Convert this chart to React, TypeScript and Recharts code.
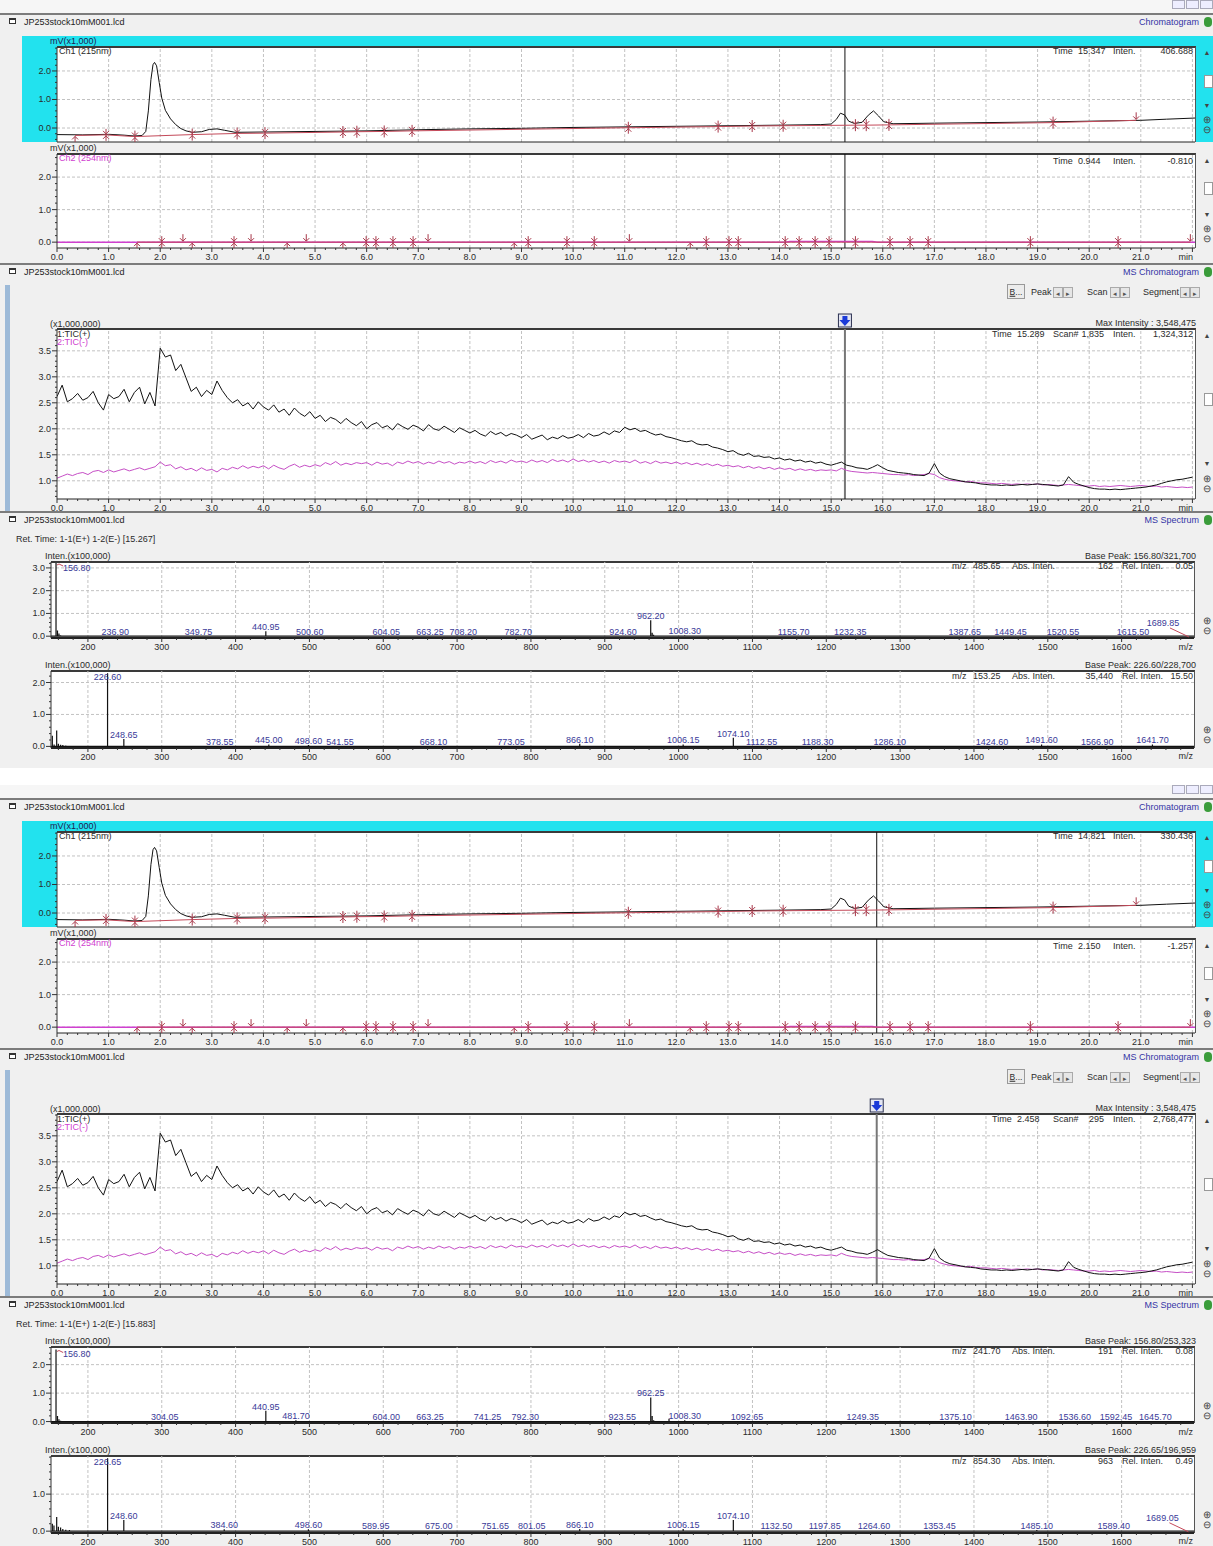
import React from 'react';
import { ComposedChart, Line, Scatter, XAxis, YAxis, ReferenceLine } from 'recharts';

const W = 1213;
const OFF = 785;
const FONT = '"Liberation Sans", Arial, Helvetica, sans-serif';
const TXT = '#2b2b2b';
const LBL = '#3a3a98';
const RED = '#c44a5a';
const MARK = '#a8384a';
const MAG = '#d040d0';
const GRID = '#c2c2c2';

// ---------- LC chromatogram Ch1 (215nm), mV x1000 ----------
const ch1Trace: [number, number][] = [
  [0, -0.23], [0.5, -0.24], [1.0, -0.22], [1.3, -0.25], [1.5, -0.28], [1.65, -0.26], [1.72, -0.12],
  [1.77, 0.6], [1.82, 1.7], [1.86, 2.22], [1.89, 2.3], [1.93, 2.18], [1.98, 1.6], [2.03, 1.05],
  [2.1, 0.62], [2.2, 0.32], [2.3, 0.12], [2.4, -0.02], [2.5, -0.1], [2.62, -0.15], [2.8, -0.13],
  [2.95, -0.05], [3.1, -0.03], [3.25, -0.08], [3.45, -0.15], [4.0, -0.14], [5.0, -0.12], [6.0, -0.1],
  [7.0, -0.06], [8.0, -0.03], [9.0, -0.01], [10.0, 0.02], [11.0, 0.04], [12.0, 0.06], [13.0, 0.08],
  [14.0, 0.1], [14.8, 0.12], [15.0, 0.14], [15.1, 0.3], [15.18, 0.52], [15.26, 0.46], [15.34, 0.24],
  [15.45, 0.16], [15.6, 0.2], [15.72, 0.45], [15.82, 0.6], [15.92, 0.42], [16.02, 0.22], [16.2, 0.15],
  [17.0, 0.17], [18.0, 0.19], [19.0, 0.21], [20.0, 0.24], [21.0, 0.27], [21.5, 0.31], [22.05, 0.35],
];
const ch1Marks: [number, number, string][] = [
  [0.35, -0.26, 'u'], [0.95, -0.24, 'a'], [1.51, -0.3, 'a'], [2.62, -0.23, 'a'], [3.49, -0.19, 'a'],
  [4.03, -0.18, 'a'], [5.54, -0.14, 'a'], [5.81, -0.13, 'a'], [6.34, -0.12, 'a'], [6.88, -0.1, 'a'],
  [11.07, 0.01, 'a'], [12.81, 0.05, 'a'], [13.47, 0.07, 'a'], [14.07, 0.08, 'a'], [15.47, 0.1, 'a'],
  [15.68, 0.1, 'a'], [16.12, 0.11, 'a'], [19.3, 0.19, 'a'], [20.91, 0.27, 'd'],
];

// ---------- LC chromatogram Ch2 (254nm) ----------
const ch2Trace: [number, number][] = [[0, 0.0], [14.1, 0.0], [14.2, 0.02], [15.8, 0.02], [15.9, 0.0], [22.05, 0.0]];
const ch2Marks: [number, number, string][] = [
  [1.55, 0, 'u'], [2.03, 0, 'a'], [2.44, 0, 'd'], [2.62, 0, 'u'], [3.43, 0, 'a'], [3.76, 0, 'd'],
  [4.46, 0, 'u'], [4.83, 0, 'd'], [5.54, 0, 'u'], [5.99, 0, 'a'], [6.18, 0, 'a'], [6.51, 0, 'a'],
  [6.9, 0, 'a'], [7.19, 0, 'd'], [8.86, 0, 'u'], [9.13, 0, 'a'], [9.88, 0, 'a'], [10.41, 0, 'a'],
  [11.09, 0, 'd'], [12.27, 0, 'u'], [12.58, 0, 'a'], [13.02, 0, 'a'], [13.2, 0, 'a'], [14.11, 0, 'a'],
  [14.38, 0, 'a'], [14.69, 0, 'a'], [14.96, 0, 'a'], [15.47, 0, 'a'], [16.14, 0, 'a'], [16.53, 0, 'a'],
  [16.88, 0, 'a'], [18.86, 0, 'a'], [20.56, 0, 'a'], [21.96, 0, 'd'],
];

// ---------- MS TIC (x1,000,000), sampled every 0.1 min from 0.0 ----------
const TIC_STEP = 0.1;
const ticPos: number[] = [
  2.62, 2.84, 2.52, 2.58, 2.68, 2.55, 2.6, 2.72, 2.5, 2.36,
  2.66, 2.58, 2.62, 2.76, 2.52, 2.7, 2.8, 2.48, 2.7, 2.44,
  3.55, 3.38, 3.42, 3.12, 3.24, 2.98, 2.72, 2.8, 2.62, 2.74,
  2.66, 2.92, 2.74, 2.6, 2.5, 2.56, 2.44, 2.5, 2.38, 2.52,
  2.42, 2.36, 2.46, 2.32, 2.38, 2.26, 2.4, 2.3, 2.24, 2.33,
  2.2, 2.26, 2.14, 2.22, 2.18, 2.1, 2.2, 2.12, 2.06, 2.14,
  2.0, 2.08, 2.12, 2.02, 2.06, 1.98, 2.1, 2.04, 1.99, 2.07,
  2.03, 1.96, 2.08, 2.0, 1.97, 2.05, 1.99, 1.93, 2.02, 1.97,
  1.92, 1.97, 1.9, 1.86, 1.95, 1.89, 1.93, 1.86, 1.91, 1.88,
  1.83, 1.89, 1.8, 1.84, 1.88, 1.79, 1.84, 1.81, 1.87, 1.82,
  1.84, 1.89, 1.83, 1.91, 1.86, 1.88, 1.94, 1.89, 1.96, 1.93,
  2.03, 1.98, 2.01, 1.95, 1.97, 1.92, 1.88, 1.9, 1.85, 1.83,
  1.8, 1.77, 1.75, 1.77, 1.71, 1.69, 1.7, 1.65, 1.63, 1.6,
  1.56, 1.58, 1.52, 1.49, 1.53, 1.47, 1.48, 1.45, 1.46, 1.42,
  1.44, 1.4, 1.42, 1.38, 1.4, 1.36, 1.38, 1.34, 1.36, 1.32,
  1.3, 1.33, 1.36, 1.3, 1.28, 1.25, 1.24, 1.22, 1.26, 1.31,
  1.25, 1.2, 1.18, 1.16, 1.15, 1.14, 1.12, 1.11, 1.1, 1.15,
  1.33, 1.15, 1.08, 1.04, 1.02, 1.0, 0.98, 0.97, 0.96, 0.94,
  0.93, 0.92, 0.92, 0.91, 0.92, 0.91, 0.92, 0.93, 0.92, 0.93,
  0.94, 0.93, 0.92, 0.91, 0.9, 0.92, 1.08, 0.97, 0.93, 0.9,
  0.87, 0.85, 0.84, 0.84, 0.83, 0.84, 0.83, 0.84, 0.85, 0.86,
  0.87, 0.88, 0.9, 0.92, 0.95, 0.98, 1.0, 1.02, 1.03, 1.05,
  1.07,
];
const ticNeg: number[] = [
  1.05, 1.09, 1.13, 1.1, 1.14, 1.16, 1.12, 1.18, 1.2, 1.16,
  1.21, 1.17, 1.2, 1.23, 1.19, 1.22, 1.25, 1.21, 1.24, 1.27,
  1.36, 1.29, 1.31, 1.23, 1.27, 1.21, 1.24, 1.19, 1.25, 1.2,
  1.22, 1.17, 1.24, 1.21, 1.26, 1.23, 1.29, 1.24, 1.28, 1.25,
  1.29, 1.23, 1.3, 1.25, 1.22, 1.28, 1.32, 1.26, 1.3, 1.27,
  1.31, 1.28, 1.35, 1.31, 1.37, 1.3, 1.34, 1.31, 1.35, 1.33,
  1.35, 1.3, 1.36, 1.32, 1.34, 1.29, 1.36, 1.33, 1.38, 1.34,
  1.37, 1.32, 1.36, 1.33, 1.38, 1.34, 1.37, 1.32, 1.36, 1.34,
  1.38, 1.34, 1.37, 1.33, 1.39, 1.35, 1.38, 1.34, 1.4, 1.36,
  1.38, 1.35, 1.4, 1.36, 1.39, 1.35, 1.41, 1.37, 1.4, 1.36,
  1.42, 1.37, 1.4, 1.36, 1.39, 1.35, 1.38, 1.34, 1.39, 1.36,
  1.38, 1.35, 1.4, 1.34, 1.37, 1.33, 1.38, 1.34, 1.36, 1.33,
  1.36, 1.32, 1.35, 1.31, 1.34, 1.3, 1.33, 1.29, 1.32, 1.28,
  1.3, 1.27, 1.29, 1.25, 1.28, 1.24, 1.27, 1.23, 1.26, 1.22,
  1.25, 1.22, 1.24, 1.2, 1.23, 1.2, 1.22, 1.19, 1.21, 1.2,
  1.21, 1.19, 1.24, 1.2, 1.18, 1.17, 1.16, 1.15, 1.16, 1.15,
  1.14, 1.13, 1.12, 1.12, 1.11, 1.12, 1.1, 1.11, 1.12, 1.14,
  1.12, 1.06, 1.03, 1.01, 1.0, 0.99, 0.98, 0.99, 0.97, 0.96,
  0.96, 0.95, 0.94, 0.95, 0.94, 0.93, 0.94, 0.93, 0.94, 0.93,
  0.94, 0.92, 0.93, 0.92, 0.91, 0.92, 0.93, 0.92, 0.91, 0.9,
  0.9, 0.91, 0.89, 0.9, 0.89, 0.9, 0.91, 0.9, 0.89, 0.9,
  0.91, 0.9, 0.89, 0.9, 0.88, 0.89, 0.88, 0.87, 0.88, 0.87,
  0.88,
];

// ---------- MS spectra (x100,000): [m/z, intensity, label?, labelStyle?] ----------
type Peak = [number, number, string?, string?];
const specPosA: Peak[] = [
  [156.8, 3.217, '156.80', 'top'], [158.8, 0.25], [160.8, 0.12], [163, 0.04],
  [236.9, 0.02, '236.90'], [349.75, 0.02, '349.75'], [440.95, 0.22, '440.95'], [500.6, 0.02, '500.60'],
  [604.05, 0.02, '604.05'], [663.25, 0.02, '663.25'], [708.2, 0.02, '708.20'], [782.7, 0.02, '782.70'],
  [924.6, 0.02, '924.60'], [962.2, 0.7, '962.20'], [964.2, 0.15], [966.1, 0.06], [1008.3, 0.04, '1008.30'],
  [1155.7, 0.02, '1155.70'], [1232.35, 0.02, '1232.35'], [1387.65, 0.02, '1387.65'], [1449.45, 0.02, '1449.45'],
  [1520.55, 0.02, '1520.55'], [1615.5, 0.02, '1615.50'], [1689.85, 0.01, '1689.85', 'lead'],
];
const specNegA: Peak[] = [
  [151.8, 0.33], [154.2, 0.06], [157.7, 0.5], [160, 0.08], [163, 0.05], [166, 0.04], [170, 0.03], [175, 0.02], [180, 0.02],
  [226.6, 2.287, '226.60', 'in'], [248.65, 0.23, '248.65'], [378.55, 0.02, '378.55'], [445.0, 0.06, '445.00'],
  [498.6, 0.04, '498.60'], [541.55, 0.02, '541.55'], [668.1, 0.02, '668.10'], [773.05, 0.02, '773.05'],
  [866.1, 0.08, '866.10'], [1006.15, 0.06, '1006.15'], [1074.1, 0.27, '1074.10'], [1112.55, 0.02, '1112.55'],
  [1188.3, 0.02, '1188.30'], [1286.1, 0.02, '1286.10'], [1424.6, 0.02, '1424.60'], [1491.6, 0.06, '1491.60'],
  [1566.9, 0.02, '1566.90'], [1641.7, 0.06, '1641.70'],
];
const specPosB: Peak[] = [
  [156.8, 2.533, '156.80', 'top'], [158.8, 0.2], [160.8, 0.08], [163, 0.03],
  [304.05, 0.02, '304.05'], [440.95, 0.38, '440.95'], [481.7, 0.05, '481.70'], [604.0, 0.02, '604.00'],
  [663.25, 0.02, '663.25'], [741.25, 0.02, '741.25'], [792.3, 0.02, '792.30'], [923.55, 0.02, '923.55'],
  [962.25, 0.85, '962.25'], [964.2, 0.2], [966.2, 0.05], [987, 0.1], [1008.3, 0.05, '1008.30'],
  [1092.65, 0.02, '1092.65'], [1249.35, 0.02, '1249.35'], [1375.1, 0.02, '1375.10'], [1463.9, 0.02, '1463.90'],
  [1536.6, 0.02, '1536.60'], [1592.45, 0.02, '1592.45'], [1645.7, 0.02, '1645.70'],
];
const specNegB: Peak[] = [
  [151.8, 0.2], [154, 0.15], [157.7, 0.38], [160, 0.12], [163, 0.1], [166, 0.06], [170, 0.04], [175, 0.03],
  [226.65, 1.97, '226.65', 'in'], [248.6, 0.3, '248.60'], [384.6, 0.05, '384.60'], [498.6, 0.05, '498.60'],
  [589.95, 0.02, '589.95'], [675.0, 0.02, '675.00'], [751.65, 0.02, '751.65'], [801.05, 0.02, '801.05'],
  [866.1, 0.06, '866.10'], [1006.15, 0.06, '1006.15'], [1074.1, 0.3, '1074.10'], [1132.5, 0.02, '1132.50'],
  [1197.85, 0.02, '1197.85'], [1264.6, 0.02, '1264.60'], [1353.45, 0.02, '1353.45'], [1485.1, 0.03, '1485.10'],
  [1589.4, 0.02, '1589.40'], [1689.05, 0.01, '1689.05', 'lead'],
];

// ---------- axes ----------
const CH_X: [number, number] = [0, 22.05];
const SP_X: [number, number] = [150, 1698];
const range = (a: number, b: number, s: number) => {
  const out: number[] = [];
  for (let i = 0; a + i * s <= b + 1e-9; i++) out.push(Math.round((a + i * s) * 1000) / 1000);
  return out;
};
const chXTicks = range(0, 22, 0.2);
const spXTicks = range(160, 1680, 20);

// ---------- derived series ----------
const toXY = (arr: [number, number][]) => arr.map(([x, y]) => ({ x, y }));
const toMarks = (arr: [number, number, string][]) => arr.map(([x, y, k]) => ({ x, y, k }));
const ch1Data = toXY(ch1Trace);
const ch1MarkData = toMarks(ch1Marks);
const ch2Data = toXY(ch2Trace);
const ch2MarkData = toMarks(ch2Marks);
const ticPData = ticPos.map((y, i) => ({ x: Math.round(i * TIC_STEP * 10) / 10, y }));
const ticNData = ticNeg.map((y, i) => ({ x: Math.round(i * TIC_STEP * 10) / 10, y }));
const stickData = (pk: Peak[]) => {
  const pts: { x: number; y: number }[] = [{ x: SP_X[0], y: 0 }];
  [...pk].sort((a, b) => a[0] - b[0]).forEach(([m, h]) => { pts.push({ x: m, y: 0 }, { x: m, y: h }, { x: m, y: 0 }); });
  pts.push({ x: SP_X[1], y: 0 });
  return pts;
};
const labelData = (pk: Peak[]) => pk.filter((p) => p[2]).map(([m, h, label, k]) => ({ x: m, y: h, label, k: k || '' }));

// ---------- tick renderers ----------
const near = (a: number, b: number) => Math.abs(a - b) < 1e-6;
const mkXTick = (isMajor: (v: number) => boolean, show: (v: number) => boolean, fmt: (v: number) => string, dy: number) => (p: any) => {
  const { x, y, payload } = p;
  const v = payload.value;
  const major = isMajor(v);
  return (
    <g>
      <line x1={x} x2={x} y1={y} y2={y + (major ? 4 : 2)} stroke="#333" />
      {major && show(v) ? (
        <text x={x} y={y + dy} textAnchor="middle" fontSize={9} fontFamily={FONT} fill={TXT}>{fmt(v)}</text>
      ) : null}
    </g>
  );
};
const mkYTick = (majors: number[]) => (p: any) => {
  const { x, y, payload } = p;
  const v = payload.value;
  const major = majors.some((m) => near(m, v));
  return (
    <g>
      <line x1={x - (major ? 5 : 2)} x2={x} y1={y} y2={y} stroke="#333" />
      {major ? (
        <text x={x - 6} y={y + 3} textAnchor="end" fontSize={9} fontFamily={FONT} fill={TXT}>{v.toFixed(1)}</text>
      ) : null}
    </g>
  );
};
const chXTick = mkXTick((v) => near(v, Math.round(v)), (v) => v < 21.5, (v) => v.toFixed(1), 12);
const spXTick = mkXTick((v) => near(v % 100, 0), () => true, (v) => String(v), 12);
const noTick = (p: any) => <g />;

// ---------- marker shapes ----------
const PeakMark = (p: any) => {
  const { cx, cy, payload } = p;
  const k = payload.k;
  if (k === 'u')
    return (
      <g stroke={MARK} fill="none">
        <line x1={cx} y1={cy + 1} x2={cx} y2={cy + 8} />
        <polyline points={`${cx - 3},${cy + 4} ${cx},${cy + 1} ${cx + 3},${cy + 4}`} />
      </g>
    );
  if (k === 'd')
    return (
      <g stroke={MARK} fill="none">
        <line x1={cx} y1={cy - 8} x2={cx} y2={cy - 1} />
        <polyline points={`${cx - 3},${cy - 4} ${cx},${cy - 1} ${cx + 3},${cy - 4}`} />
      </g>
    );
  return (
    <g stroke={MARK} fill="none">
      <line x1={cx} y1={cy - 6} x2={cx} y2={cy + 6} />
      <polyline points={`${cx - 3},${cy - 4} ${cx},${cy - 1} ${cx + 3},${cy - 4}`} />
      <polyline points={`${cx - 3},${cy + 4} ${cx},${cy + 1} ${cx + 3},${cy + 4}`} />
    </g>
  );
};
const PeakLabel = (p: any) => {
  const { cx, cy, payload } = p;
  const st = { fontSize: 9, fontFamily: FONT, fill: LBL } as any;
  if (payload.k === 'top')
    return (
      <g>
        <polyline points={`${cx + 1},${cy + 2} ${cx + 3},${cy + 1} ${cx + 7},${cy + 3}`} stroke={RED} fill="none" />
        <text x={cx + 7} y={cy + 8} {...st}>{payload.label}</text>
      </g>
    );
  if (payload.k === 'in') return <text x={cx} y={cy + 7} textAnchor="middle" {...st}>{payload.label}</text>;
  if (payload.k === 'lead')
    return (
      <g>
        <text x={cx - 25} y={cy - 10} textAnchor="middle" {...st}>{payload.label}</text>
        <line x1={cx - 18} y1={cy - 8} x2={cx + 1} y2={cy + 1} stroke={RED} />
      </g>
    );
  return <text x={cx} y={cy - 1} textAnchor="middle" {...st}>{payload.label}</text>;
};
const CursorFlag = (p: any) => {
  const vb = p.viewBox || {};
  const x = vb.x;
  const y = vb.y;
  return (
    <g>
      <rect x={x - 6.5} y={y - 15} width={13} height={13} fill="#e4e6f2" stroke="#2a3050" />
      <path d={`M${x - 2.5},${y - 13} h5 v4 h3 l-5.5,6 l-5.5,-6 h3 z`} fill="#1a3ad8" />
    </g>
  );
};

// ---------- layout helpers ----------
type Geo = { left: number; right: number; top: number; bottom: number };
const G_CH1: Geo = { left: 57, right: 1195, top: 47, bottom: 142 };
const G_CH2: Geo = { left: 57, right: 1195, top: 154, bottom: 248 };
const G_TIC: Geo = { left: 57, right: 1195, top: 329, bottom: 499 };
const G_SP1: Geo = { left: 51, right: 1194, top: 562, bottom: 638 };
const G_SP2: Geo = { left: 51, right: 1194, top: 671, bottom: 748 };

function T({ x, y, c = TXT, a = 'l', s = 9, children }: any) {
  const tr = a === 'r' ? 'translate(-100%,-50%)' : a === 'c' ? 'translate(-50%,-50%)' : 'translate(0,-50%)';
  return (
    <div style={{ position: 'absolute', left: x, top: y, transform: tr, whiteSpace: 'nowrap', fontFamily: FONT, fontSize: s, color: c, lineHeight: 1 }}>
      {children}
    </div>
  );
}
function Box({ x, y, w, h, bg, border, extra }: any) {
  return <div style={{ position: 'absolute', left: x, top: y, width: w, height: h, background: bg, border, boxSizing: 'border-box', ...(extra || {}) }} />;
}
function Frame({ off, g }: { off: number; g: Geo }) {
  return (
    <div style={{ position: 'absolute', left: g.left, top: off + g.top - 1, width: g.right - g.left + 1, height: g.bottom - g.top + 1, background: '#fff', borderTop: '2px solid #3a3a3a', borderRight: '1px solid #555', boxSizing: 'border-box' }} />
  );
}
function Panel({ off, g, xDomain, yDomain, xTicks, yTicks, xTick, yTick, padT = 4, padB = 18, axisW = 1, children }: any) {
  const h = g.bottom - g.top + padT + padB;
  return (
    <div style={{ position: 'absolute', left: 0, top: off + g.top - padT, width: W, height: h }}>
      <ComposedChart width={W} height={h} margin={{ top: padT, right: W - g.right, bottom: 0, left: 0 }}>
        <XAxis type="number" dataKey="x" domain={xDomain} allowDataOverflow ticks={xTicks} interval={0} tickLine={false} tickSize={0} tickMargin={0} height={padB} tick={xTick} axisLine={{ stroke: '#222', strokeWidth: axisW }} />
        <YAxis type="number" dataKey="y" domain={yDomain} allowDataOverflow ticks={yTicks} interval={0} tickLine={false} tickSize={0} tickMargin={0} width={g.left} tick={yTick} axisLine={{ stroke: '#333' }} />
        {children}
      </ComposedChart>
    </div>
  );
}
const gridV = (vals: number[]) => vals.map((v) => <ReferenceLine key={'v' + v} x={v} stroke={GRID} strokeDasharray="3 2" />);
const gridH = (vals: number[]) => vals.map((v) => <ReferenceLine key={'h' + v} y={v} stroke={GRID} strokeDasharray="3 2" />);

function Info({ off, y, xs, texts }: any) {
  return (
    <>
      {texts.map((t: string, i: number) => (
        <T key={i} x={xs[i][0]} y={off + y} a={xs[i][1]}>{t}</T>
      ))}
    </>
  );
}
const CH_INFO_X = [[1053, 'l'], [1078, 'l'], [1113, 'l'], [1193, 'r']];
const TIC_INFO_X = [[992, 'l'], [1017, 'l'], [1053, 'l'], [1104, 'r'], [1113, 'l'], [1193, 'r']];
const SP_INFO_X = [[952, 'l'], [973, 'l'], [1012, 'l'], [1113, 'r'], [1122, 'l'], [1193, 'r']];

function TitleRow({ off, y, right }: any) {
  return (
    <>
      <Box x={0} y={off + y - 8} w={W} h={2} bg="#7c7c7c" />
      <Box x={9} y={off + y - 3} w={7} h={6} bg="#fff" border="1px solid #333" extra={{ borderTop: '2px solid #333' }} />
      <T x={24} y={off + y + 1} c="#222">JP253stock10mM001.lcd</T>
      <T x={1199} y={off + y + 1} a="r" c="#3434a6">{right}</T>
      <div style={{ position: 'absolute', left: 1204, top: off + y - 4, width: 8, height: 10, borderRadius: 4, background: '#3a9c3a' }} />
    </>
  );
}
function Zoomers({ off, y }: any) {
  return (
    <>
      <T x={1207} y={off + y} a="c" s={10} c="#444">⊕</T>
      <T x={1207} y={off + y + 10} a="c" s={10} c="#444">⊖</T>
    </>
  );
}
function SmallBtn({ x, y }: any) {
  return (
    <>
      <Box x={x} y={y} w={10} h={11} bg="#e6e6e6" border="1px solid #aaa" />
      <Box x={x + 10} y={y} w={10} h={11} bg="#e6e6e6" border="1px solid #aaa" />
      <T x={x + 5} y={y + 5.5} a="c" s={7} c="#555">◂</T>
      <T x={x + 15} y={y + 5.5} a="c" s={7} c="#555">▸</T>
    </>
  );
}

const A = {
  cursor: 15.267,
  ch1Info: ['Time', '15.347', 'Inten.', '406.688'],
  ch2Info: ['Time', '0.944', 'Inten.', '-0.810'],
  ticInfo: ['Time', '15.289', 'Scan#', '1,835', 'Inten.', '1,324,312'],
  ret: 'Ret. Time: 1-1(E+) 1-2(E-) [15.267]',
  pos: specPosA, neg: specNegA,
  posY: [-0.08, 3.26], negY: [-0.05, 2.36],
  posMaj: [0, 1, 2, 3], negMaj: [0, 1, 2],
  posBase: 'Base Peak: 156.80/321,700', negBase: 'Base Peak: 226.60/228,700',
  posInfo: ['m/z', '485.65', 'Abs. Inten.', '162', 'Rel. Inten.', '0.05'],
  negInfo: ['m/z', '153.25', 'Abs. Inten.', '35,440', 'Rel. Inten.', '15.50'],
};
const B = {
  cursor: 15.883,
  ch1Info: ['Time', '14.821', 'Inten.', '330.436'],
  ch2Info: ['Time', '2.150', 'Inten.', '-1.257'],
  ticInfo: ['Time', '2.458', 'Scan#', '295', 'Inten.', '2,768,477'],
  ret: 'Ret. Time: 1-1(E+) 1-2(E-) [15.883]',
  pos: specPosB, neg: specNegB,
  posY: [-0.05, 2.62], negY: [-0.05, 2.03],
  posMaj: [0, 1, 2], negMaj: [0, 1],
  posBase: 'Base Peak: 156.80/253,323', negBase: 'Base Peak: 226.65/196,959',
  posInfo: ['m/z', '241.70', 'Abs. Inten.', '191', 'Rel. Inten.', '0.08'],
  negInfo: ['m/z', '854.30', 'Abs. Inten.', '963', 'Rel. Inten.', '0.49'],
};

function Screen({ off, v }: { off: number; v: any }) {
  const ch1Y: [number, number] = [-0.49, 2.84];
  const ch2Y: [number, number] = [-0.18, 2.71];
  const ticY: [number, number] = [0.65, 3.92];
  const posYT = range(0, Math.floor(v.posY[1] * 5) / 5, 0.2);
  const negYT = range(0, Math.floor(v.negY[1] * 5) / 5, 0.2);
  const chV = range(1, 22, 1);
  const spV = range(200, 1600, 100);
  return (
    <>
      <Box x={0} y={off} w={W} h={13} bg="#f6f6f6" />
      <Box x={1172} y={off} w={13} h={9} bg="#eef" border="1px solid #aab" />
      <Box x={1186} y={off} w={13} h={9} bg="#eef" border="1px solid #aab" />
      <Box x={1200} y={off} w={13} h={9} bg="#eef" border="1px solid #aab" />
      <Box x={0} y={off + 13} w={W} h={755} bg="#f0f0f0" />

      {/* ---------------- LC Chromatogram ---------------- */}
      <TitleRow off={off} y={21} right="Chromatogram" />
      <Box x={22} y={off + 36} w={W - 22} h={106} bg="#22e2ee" />
      <Box x={1204} y={off + 75} w={9} h={13} bg="#fff" border="1px solid #999" />
      <T x={1207} y={off + 52} a="c" s={7} c="#444">▲</T>
      <T x={1207} y={off + 105} a="c" s={7} c="#444">▼</T>
      <Zoomers off={off} y={120} />
      <Box x={1204} y={off + 182} w={9} h={13} bg="#fff" border="1px solid #999" />
      <T x={1207} y={off + 160} a="c" s={7} c="#444">▲</T>
      <T x={1207} y={off + 214} a="c" s={7} c="#444">▼</T>
      <Zoomers off={off} y={229} />

      <Frame off={off} g={G_CH1} />
      <Panel off={off} g={G_CH1} xDomain={CH_X} yDomain={ch1Y} xTicks={chXTicks} yTicks={range(-0.4, 2.8, 0.2)} xTick={noTick} yTick={mkYTick([0, 1, 2])} padB={2}>
        {gridV(chV)}
        {gridH([0, 1, 2])}
        <ReferenceLine x={v.cursor} stroke="#111" />
        <Line data={ch1Data} dataKey="y" type="linear" stroke="#111" strokeWidth={1} dot={false} isAnimationActive={false} />
        <Line data={ch1MarkData} dataKey="y" type="linear" stroke={RED} strokeWidth={1} dot={false} isAnimationActive={false} />
        <Scatter data={ch1MarkData} shape={PeakMark} isAnimationActive={false} />
      </Panel>
      <T x={50} y={off + 41} c="#202050">mV(x1,000)</T>
      <T x={59} y={off + 51}>Ch1 (215nm)</T>
      <Info off={off} y={51} xs={CH_INFO_X} texts={v.ch1Info} />

      <Frame off={off} g={G_CH2} />
      <Panel off={off} g={G_CH2} xDomain={CH_X} yDomain={ch2Y} xTicks={chXTicks} yTicks={range(0, 2.6, 0.2)} xTick={chXTick} yTick={mkYTick([0, 1, 2])}>
        {gridV(chV)}
        {gridH([0, 1, 2])}
        <ReferenceLine x={v.cursor} stroke="#111" />
        <Line data={ch2Data} dataKey="y" type="linear" stroke={MAG} strokeWidth={1.5} dot={false} isAnimationActive={false} />
        <Line data={ch2MarkData} dataKey="y" type="linear" stroke={RED} strokeWidth={1} dot={false} isAnimationActive={false} />
        <Scatter data={ch2MarkData} shape={PeakMark} isAnimationActive={false} />
      </Panel>
      <T x={50} y={off + 148}>mV(x1,000)</T>
      <T x={59} y={off + 158} c={MAG}>Ch2 (254nm)</T>
      <Info off={off} y={161} xs={CH_INFO_X} texts={v.ch2Info} />
      <T x={1193} y={off + 257} a="r">min</T>

      {/* ---------------- MS Chromatogram ---------------- */}
      <TitleRow off={off} y={271} right="MS Chromatogram" />
      <Box x={5} y={off + 285} w={5} h={227} bg="#9dbad8" />
      <Box x={1007} y={off + 284} w={18} h={15} bg="#ececec" border="1px solid #999" />
      <T x={1016} y={off + 292} a="c" s={8.5}><u>B</u>...</T>
      <T x={1031} y={off + 292}>Peak</T>
      <SmallBtn x={1053} y={off + 287} />
      <T x={1087} y={off + 292}>Scan</T>
      <SmallBtn x={1110} y={off + 287} />
      <T x={1143} y={off + 292}>Segment</T>
      <SmallBtn x={1180} y={off + 287} />
      <T x={1207} y={off + 335} a="c" s={7} c="#444">▲</T>
      <Box x={1204} y={off + 393} w={9} h={13} bg="#fff" border="1px solid #999" />
      <T x={1207} y={off + 463} a="c" s={7} c="#444">▼</T>
      <Zoomers off={off} y={479} />

      <Frame off={off} g={G_TIC} />
      <Panel off={off} g={G_TIC} xDomain={CH_X} yDomain={ticY} xTicks={chXTicks} yTicks={range(0.7, 3.9, 0.1)} xTick={chXTick} yTick={mkYTick([1, 1.5, 2, 2.5, 3, 3.5])} padT={20}>
        {gridV(chV)}
        {gridH([1, 1.5, 2, 2.5, 3, 3.5])}
        <ReferenceLine x={v.cursor} stroke="#777" strokeWidth={2} label={CursorFlag} />
        <Line data={ticNData} dataKey="y" type="linear" stroke="#c64fc6" strokeWidth={1} dot={false} isAnimationActive={false} />
        <Line data={ticPData} dataKey="y" type="linear" stroke="#111" strokeWidth={1} dot={false} isAnimationActive={false} />
      </Panel>
      <T x={50} y={off + 324}>(x1,000,000)</T>
      <T x={57} y={off + 334}>1:TIC(+)</T>
      <T x={57} y={off + 342} c={MAG}>2:TIC(-)</T>
      <T x={1196} y={off + 323} a="r">Max Intensity : 3,548,475</T>
      <Info off={off} y={334} xs={TIC_INFO_X} texts={v.ticInfo} />
      <T x={1193} y={off + 508} a="r">min</T>

      {/* ---------------- MS Spectrum ---------------- */}
      <TitleRow off={off} y={519} right="MS Spectrum" />
      <T x={16} y={off + 539}>{v.ret}</T>

      <Frame off={off} g={G_SP1} />
      <Panel off={off} g={G_SP1} xDomain={SP_X} yDomain={v.posY} xTicks={spXTicks} yTicks={posYT} xTick={spXTick} yTick={mkYTick(v.posMaj)} axisW={2}>
        {gridV(spV)}
        {gridH(v.posMaj.filter((m: number) => m > 0))}
        <Line data={stickData(v.pos)} dataKey="y" type="linear" stroke="#111" strokeWidth={1.2} dot={false} isAnimationActive={false} />
        <Scatter data={labelData(v.pos)} shape={PeakLabel} isAnimationActive={false} />
      </Panel>
      <T x={45} y={off + 556}>Inten.(x100,000)</T>
      <T x={1196} y={off + 556} a="r">{v.posBase}</T>
      <Info off={off} y={566} xs={SP_INFO_X} texts={v.posInfo} />
      <T x={1193} y={off + 647} a="r">m/z</T>
      <Zoomers off={off} y={621} />

      <Frame off={off} g={G_SP2} />
      <Panel off={off} g={G_SP2} xDomain={SP_X} yDomain={v.negY} xTicks={spXTicks} yTicks={negYT} xTick={spXTick} yTick={mkYTick(v.negMaj)} axisW={2}>
        {gridV(spV)}
        {gridH(v.negMaj.filter((m: number) => m > 0))}
        <Line data={stickData(v.neg)} dataKey="y" type="linear" stroke="#111" strokeWidth={1.2} dot={false} isAnimationActive={false} />
        <Scatter data={labelData(v.neg)} shape={PeakLabel} isAnimationActive={false} />
      </Panel>
      <T x={45} y={off + 665}>Inten.(x100,000)</T>
      <T x={1196} y={off + 665} a="r">{v.negBase}</T>
      <Info off={off} y={676} xs={SP_INFO_X} texts={v.negInfo} />
      <T x={1193} y={off + 756} a="r">m/z</T>
      <Zoomers off={off} y={730} />
    </>
  );
}

export default function App() {
  return (
    <div style={{ position: 'absolute', left: 0, top: 0, width: W, height: 1546, background: '#fff', overflow: 'hidden', fontFamily: FONT }}>
      <Screen off={0} v={A} />
      <Screen off={OFF} v={B} />
    </div>
  );
}
